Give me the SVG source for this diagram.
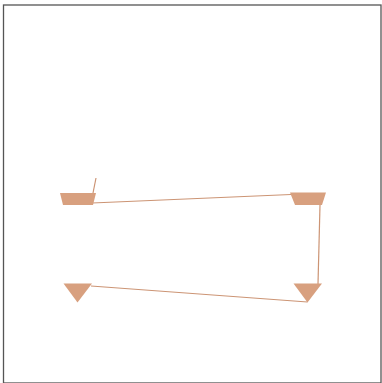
<svg xmlns="http://www.w3.org/2000/svg" width="382" height="383" viewBox="0 0 382 383">
<style>
.n{fill:#d8a07f;stroke:none}
.e{stroke:#cc9474;stroke-width:1.2;fill:none}
</style>
<rect x="0" y="0" width="382" height="383" fill="#fff"/>
<rect x="3.5" y="5" width="377.5" height="378" fill="none" stroke="#555" stroke-width="1.3"/>
<g id="connectors">
<line class="e" x1="96" y1="178" x2="93" y2="193"/>
<line class="e" x1="92" y1="203" x2="291" y2="194.5"/>
<line class="e" x1="320" y1="205" x2="318" y2="284"/>
<line class="e" x1="307.5" y1="302" x2="91" y2="286"/>
</g>
<g id="n1"><polygon class="n" points="60,193 96,193 93,205 63,205"/></g>
<g id="n2"><polygon class="n" points="290,192.5 326,192.5 322,205 295,205"/></g>
<g id="n3"><polygon class="n" points="63.5,283.5 92,283.5 77.5,302.5"/></g>
<g id="n4"><polygon class="n" points="293.5,283.5 322,283.5 307.5,302.5"/></g>
</svg>
